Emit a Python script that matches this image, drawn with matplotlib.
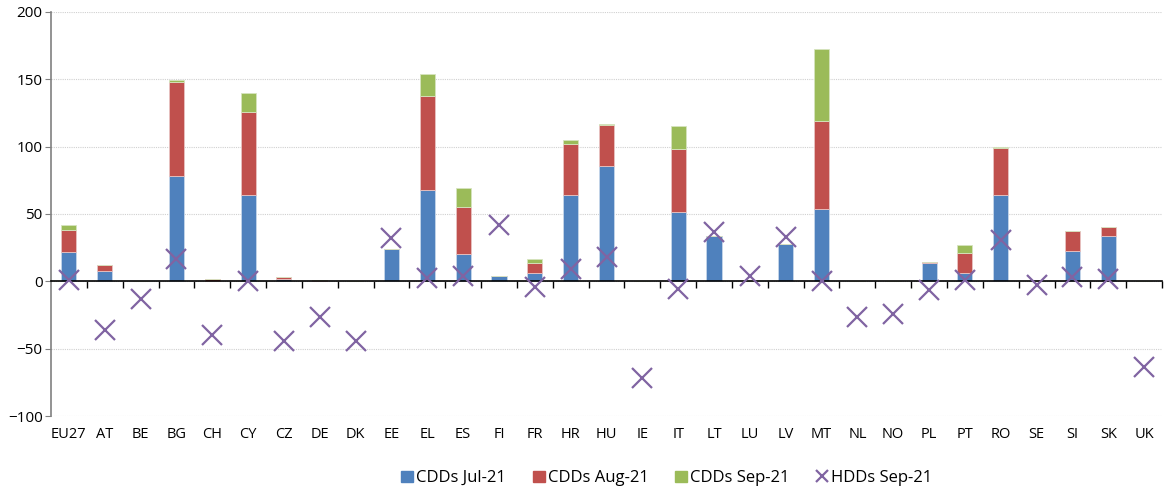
import numpy as np
import matplotlib
matplotlib.use("Agg")
import matplotlib.pyplot as plt
from matplotlib.patches import Patch
from matplotlib.lines import Line2D

# ---------------- Data ----------------
countries = ["EU27", "AT", "BE", "BG", "CH", "CY", "CZ", "DE", "DK", "EE", "EL", "ES",
             "FI", "FR", "HR", "HU", "IE", "IT", "LT", "LU", "LV", "MT", "NL", "NO",
             "PL", "PT", "RO", "SE", "SI", "SK", "UK"]
# CDDs per month (stacked)
cdd_jul = [21.8, 7.7, 0, 78.5, 0.3, 64.1, 1.5, 0.3, 0.5, 24.0, 67.8, 20.5,
           4.0, 6.4, 64.1, 85.9, 0, 51.7, 33.7, 0, 27.5, 53.5, 0, 0,
           13.6, 6.4, 64.4, 0, 22.8, 33.9, 0]
cdd_aug = [16.3, 4.7, 0, 69.5, 1.4, 61.4, 1.5, 0.9, 0, 0, 70.1, 34.5,
           0, 7.0, 37.9, 30.2, 0, 46.3, 0, 0, 0, 65.8, 0, 0,
           1.0, 14.4, 34.9, 0, 14.8, 6.2, 0]
cdd_sep = [4.0, 0, 0, 1.8, 0, 14.6, 0, 0, 0, 0, 16.3, 14.0,
           0, 3.4, 3.2, 0.5, 0, 17.6, 0, 0, 0, 53.2, 0, 0,
           0, 6.4, 0.7, 0, 0, 0, 0]
# HDD anomaly Sep-21
hdd_sep = [1.0, -36.4, -13.4, 16.6, -39.6, 0, -44.3, -26.2, -44.3, 32.2, 2.5, 4.2,
           41.8, -4.2, 9.2, 18.1, -72.0, -5.4, 36.6, 3.7, 32.9, 0, -26.7, -24.3,
           -6.2, 1.2, 30.4, -3.0, 3.2, 2.0, -63.6]

# -------------- Styling --------------
c_jul = "#4F81BD"
c_aug = "#C0504D"
c_sep = "#9BBB59"
c_hdd = "#8064A2"
plt.rcParams["font.family"] = ["Open Sans", "DejaVu Sans"]

fig = plt.figure(figsize=(11.64, 4.88), dpi=100)
ax = fig.add_axes([0.0438, 0.1475, 0.9545, 0.828])

x = np.arange(len(countries))
jul = np.array(cdd_jul)
aug = np.array(cdd_aug)
sep = np.array(cdd_sep)
w = 0.42
ax.bar(x, jul, w, color=c_jul, edgecolor="#c6d6ea", linewidth=0.6, zorder=2)
ax.bar(x, aug, w, bottom=jul, color=c_aug, edgecolor="#e8c3c2", linewidth=0.6, zorder=2)
ax.bar(x, sep, w, bottom=jul + aug, color=c_sep, edgecolor="#d6e4bf", linewidth=0.6, zorder=2)
ax.plot(x, hdd_sep, linestyle="none", marker="x", markersize=15, markeredgewidth=1.6,
        color=c_hdd, zorder=4)

ax.set_xlim(-0.5, len(countries) - 0.5)
ax.set_ylim(-100, 200)
ax.set_yticks(np.arange(-100, 201, 50))
ax.grid(axis="y", color="#d0d0d0", linestyle=(0, (1, 1)), linewidth=0.8, zorder=0)

for s in ["top", "right"]:
    ax.spines[s].set_visible(False)
ax.spines["left"].set_color("#808080")
ax.spines["left"].set_linewidth(1.2)
ax.tick_params(axis="y", length=4, color="#808080", labelsize=11, pad=2)

# zero line with boundary ticks
ax.spines["bottom"].set_position(("data", 0))
ax.spines["bottom"].set_color("black")
ax.spines["bottom"].set_linewidth(1.2)
ax.spines["bottom"].set_zorder(3)
ax.set_xticks(x)
ax.set_xticklabels([])
ax.tick_params(axis="x", which="major", length=0)
ax.set_xticks(np.arange(0.5, len(countries) - 0.4, 1), minor=True)
ax.tick_params(axis="x", which="minor", direction="out", length=5, width=1.0, color="black")

sec = ax.secondary_xaxis(0.0)
sec.set_xticks(x)
sec.set_xticklabels(countries)
sec.tick_params(length=0, labelsize=10.5, pad=8)
sec.spines["bottom"].set_visible(False)

handles = [Patch(color=c_jul, label="CDDs Jul-21"),
           Patch(color=c_aug, label="CDDs Aug-21"),
           Patch(color=c_sep, label="CDDs Sep-21"),
           Line2D([], [], linestyle="none", marker="x", color=c_hdd, markersize=9,
                  markeredgewidth=1.6, label="HDDs Sep-21")]
fig.legend(handles=handles, loc="center", bbox_to_anchor=(0.573, 0.02), ncol=4,
           frameon=False, fontsize=12, handlelength=0.7, handleheight=0.7,
           handletextpad=0.2, columnspacing=1.6)

fig.savefig("out.png", dpi=100)
